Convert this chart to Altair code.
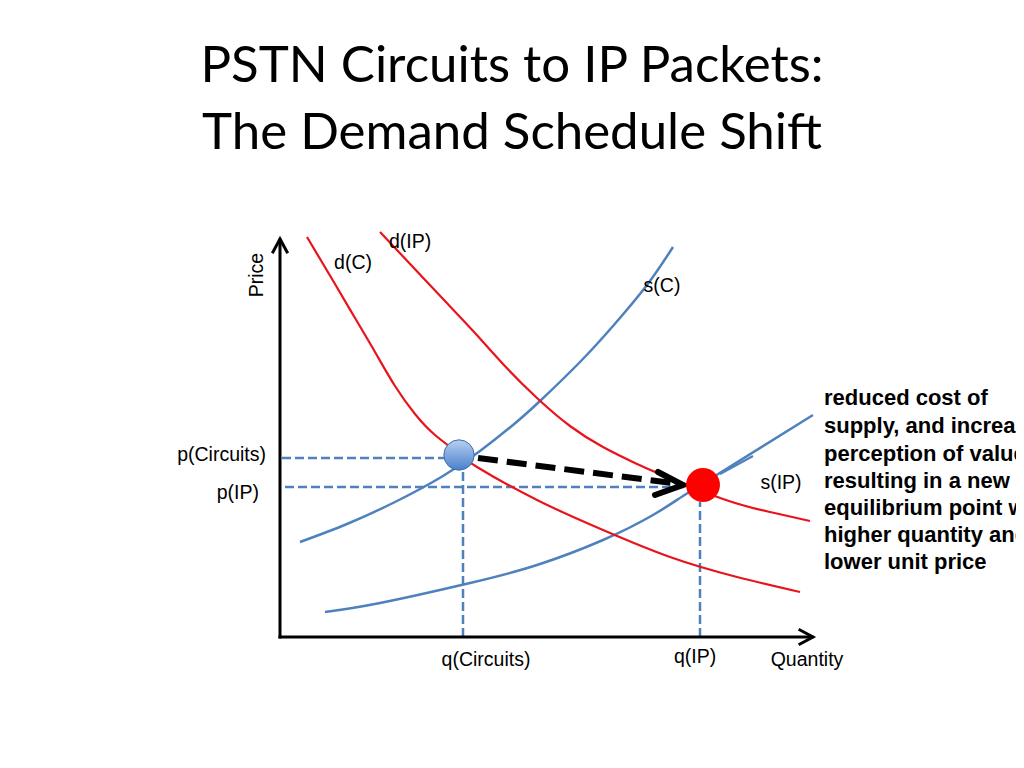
import altair as alt
import pandas as pd

# ---- data (quantity / price units; origin at the axis corner)
DC_Q = [27, 55, 75, 95, 115, 135, 155, 178, 197, 257, 323, 390, 457, 520]
DC_P = [400, 353, 319, 285, 251, 223, 202, 184, 170, 137, 107, 80, 60, 45]
DIP_Q = [100, 132, 165, 195, 223, 257, 290, 323, 357, 380, 443, 490, 530]
DIP_P = [405, 371, 336, 304, 273, 239, 211, 190, 173, 163, 138, 125, 116]
SC_Q = [20, 67, 117, 163, 200, 233, 260, 300, 333, 367, 393]
SC_P = [95, 113, 136, 161, 186, 212, 236, 275, 311, 352, 390]
SIP_Q = [45, 100, 190, 257, 323, 373, 403, 443, 533]
SIP_P = [25, 34, 54, 72, 97, 122, 141, 166, 222]

P_CIRCUITS = 179
P_IP = 150
Q_CIRCUITS = 183
Q_IP = 420
EQ_C = (179, 182)
EQ_IP = (423, 152)

TITLE_LINES = ["PSTN Circuits to IP Packets:", "The Demand Schedule Shift"]
NOTE_LINES = ["reduced cost of", "supply, and increased", "perception of value",
              "resulting in a new", "equilibrium point with", "higher quantity and",
              "lower unit price"]

W, H = 1008, 752
XS = alt.Scale(domain=[-272, 736], nice=False, zero=False)
YS = alt.Scale(domain=[-123, 629], nice=False, zero=False)
X = alt.X("q:Q", scale=XS, axis=None)
Y = alt.Y("p:Q", scale=YS, axis=None)


def lines(series, color, width, interp="linear", dash=None, cap="butt"):
    rows = []
    for sid, (qs, ps) in enumerate(series):
        for i, (q, p) in enumerate(zip(qs, ps)):
            rows.append({"id": sid, "o": i, "q": q, "p": p})
    kw = dict(color=color, strokeWidth=width, interpolate=interp, strokeCap=cap)
    if dash:
        kw["strokeDash"] = dash
    return alt.Chart(pd.DataFrame(rows)).mark_line(**kw).encode(
        x=X, y=Y, detail="id:N", order="o:Q")


BLUE = "#4f81bd"
RED = "#e8141c"

guides = lines([
    ([2, 166], [P_CIRCUITS, P_CIRCUITS]),
    ([5, 405], [P_IP, P_IP]),
    ([Q_CIRCUITS, Q_CIRCUITS], [0, 168]),
    ([Q_IP, Q_IP], [0, 135]),
], BLUE, 2.5, dash=[9, 4])

supply = lines([(SC_Q, SC_P), (SIP_Q, SIP_P)], BLUE, 2.5, interp="natural")
pointer_barb = lines([([473, 440], [181, 163])], BLUE, 2.2)
demand = lines([(DC_Q, DC_P), (DIP_Q, DIP_P)], RED, 2.2, interp="natural")

axes = lines([
    ([0, 0], [0, 397]),
    ([-7, 0, 7], [385, 398, 385]),
    ([0, 532], [0, 0]),
    ([520, 533, 520], [7, 0, -7]),
], "black", 3, cap="square")

shift = lines([([198, 392], [179, 154])], "black", 6, dash=[20, 9])
shift_head = lines([([378, 403, 375], [165, 152, 142])], "black", 6, cap="round")

blue_pt = alt.Chart(pd.DataFrame({"q": [EQ_C[0]], "p": [EQ_C[1]]})).mark_circle(
    size=920, opacity=1,
    fill=alt.LinearGradient(gradient="linear", x1=0, x2=0, y1=0, y2=1,
                            stops=[alt.GradientStop(offset=0, color="#b7d0f2"),
                                   alt.GradientStop(offset=1, color="#4a7fcc")]),
    stroke="#3f6fae", strokeWidth=1).encode(x=X, y=Y)
red_pt = alt.Chart(pd.DataFrame({"q": [EQ_IP[0]], "p": [EQ_IP[1]]})).mark_circle(
    size=1150, opacity=1, color="#ff0000").encode(x=X, y=Y)

FONT = "Liberation Sans"


def texts(df, **kw):
    base = dict(font=FONT, fontSize=19.5, color="black", baseline="middle")
    base.update(kw)
    return alt.Chart(df).mark_text(**base).encode(x=X, y=Y, text="t:N")


center_labels = texts(pd.DataFrame({
    "t": ["d(C)", "d(IP)", "s(C)", "s(IP)", "q(Circuits)", "q(IP)", "Quantity"],
    "q": [73, 130, 382, 501, 206, 415, 527],
    "p": [374, 395, 351, 154, -23, -20, -23],
}), align="center")
right_labels = texts(pd.DataFrame({
    "t": ["p(Circuits)", "p(IP)"], "q": [-14, -21], "p": [182, 144]}), align="right")
price_label = texts(pd.DataFrame({"t": ["Price"], "q": [-23], "p": [362]}),
                    align="center", angle=270)
note = texts(pd.DataFrame({
    "t": NOTE_LINES, "q": [544] * 7,
    "p": [239, 211, 183, 156, 129, 102, 75]}),
    align="left", fontSize=22, fontWeight="bold")
title = texts(pd.DataFrame({"t": TITLE_LINES, "q": [232, 232], "p": [570, 503]}),
              align="center", font="Lato", fontSize=51, fontWeight="normal")

chart = alt.layer(
    guides, supply, pointer_barb, demand, axes, shift, shift_head, blue_pt, red_pt,
    center_labels, right_labels, price_label, note, title
).properties(
    width=W, height=H, padding=0, autosize=alt.AutoSizeParams(type="none"),
    background="white"
).configure_view(stroke=None)

chart.save("out.html", embed_options={"renderer": "svg", "actions": False})
